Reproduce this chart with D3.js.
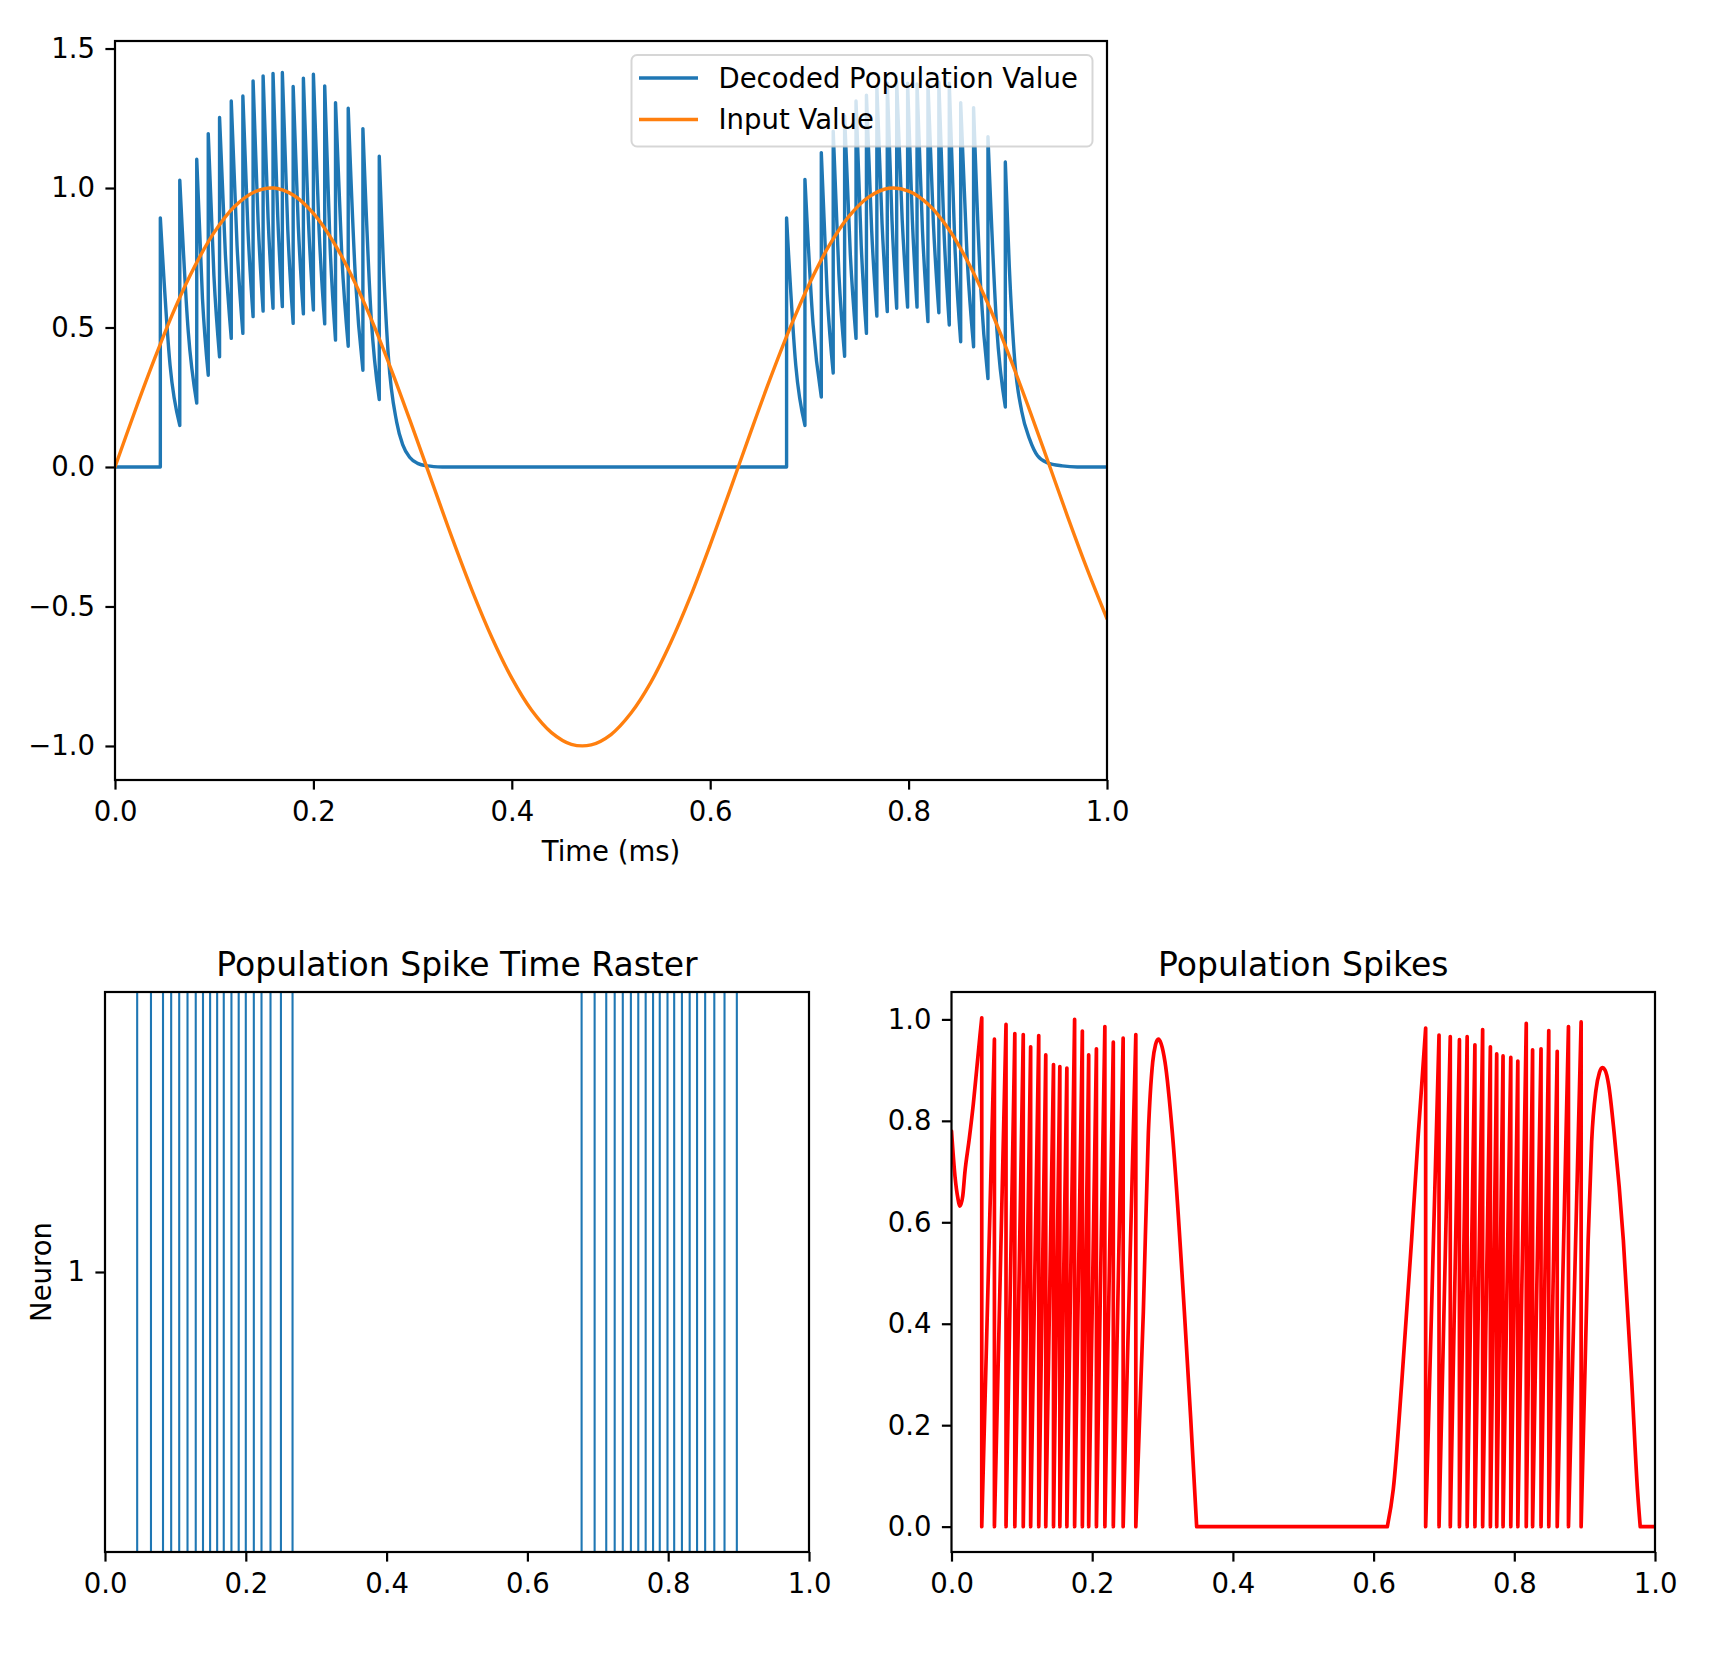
<!DOCTYPE html>
<html><head><meta charset="utf-8">
<script src="https://cdn.jsdelivr.net/npm/d3@7"></script>
<style>
html,body{margin:0;padding:0;background:#fff;}
svg{display:block;font-family:"DejaVu Sans",sans-serif;}
</style></head><body>
<svg id="fig" width="1736" height="1654"></svg>
<script>
// ---------------- data ----------------
const xTickValues = [0.0, 0.2, 0.4, 0.6, 0.8, 1.0];
const topYTickValues = [-1.0, -0.5, 0.0, 0.5, 1.0, 1.5];
const rasterYTickValues = [1];
const spikesYTickValues = [0.0, 0.2, 0.4, 0.6, 0.8, 1.0];
const legendLabels = ["Decoded Population Value", "Input Value"];

// input sine (time, value)
const inputTimes = [0,0.02,0.04,0.06,0.08,0.10,0.12,0.14,0.16,0.18,0.20,0.22,0.24,0.26,0.28,0.30,0.32,0.34,0.36,0.38,0.40,0.42,0.44,0.46,0.48,0.50,0.52,0.54,0.56,0.58,0.60,0.62,0.64,0.66,0.68,0.70,0.72,0.74,0.76,0.78,0.80,0.82,0.84,0.86,0.88,0.90,0.92,0.94,0.96,0.98,1.00];
const inputValues = [0,0.199,0.389,0.565,0.717,0.841,0.932,0.985,1.0,0.974,0.909,0.808,0.675,0.516,0.335,0.141,-0.058,-0.256,-0.443,-0.612,-0.757,-0.872,-0.952,-0.994,-0.996,-0.959,-0.883,-0.773,-0.631,-0.465,-0.279,-0.083,0.117,0.312,0.494,0.657,0.794,0.899,0.968,0.999,0.989,0.941,0.855,0.734,0.585,0.412,0.223,0.025,-0.175,-0.366,-0.544];

// spike times (ms) of the two bursts
const spikeTimes1 = [0.0457,0.0653,0.0824,0.094,0.1054,0.1172,0.1289,0.1392,0.1493,0.1593,0.1687,0.1796,0.1899,0.2000,0.2114,0.2223,0.2351,0.2499,0.2664];
const spikeTimes2 = [0.677,0.6955,0.712,0.724,0.7355,0.747,0.7575,0.768,0.7785,0.788,0.799,0.8085,0.8195,0.8305,0.841,0.8525,0.8655,0.880,0.8975];

// decoded value: peak right after each spike, value just before each spike, mid-interval value
const decodedPeaks1 = [0.893,1.028,1.103,1.195,1.253,1.312,1.330,1.384,1.402,1.411,1.414,1.364,1.394,1.408,1.366,1.306,1.286,1.213,1.114];
const decodedPeaks2 = [0.893,1.031,1.127,1.204,1.258,1.312,1.333,1.364,1.376,1.379,1.376,1.373,1.376,1.379,1.376,1.306,1.288,1.184,1.093];
const decodedTroughs1 = [0,0.149,0.229,0.329,0.395,0.461,0.479,0.539,0.559,0.569,0.575,0.515,0.549,0.563,0.513,0.455,0.433,0.347,0.242];
const decodedTroughs2 = [0,0.149,0.251,0.337,0.397,0.461,0.479,0.541,0.557,0.569,0.573,0.573,0.521,0.553,0.509,0.449,0.431,0.317,0.215];
const decodedMids1 = [0.365,0.485,0.602,0.687,0.760,0.793,0.847,0.880,0.893,0.901,0.853,0.865,0.886,0.850,0.788,0.752,0.668,0.542];
const decodedMids2 = [0.365,0.509,0.616,0.691,0.762,0.793,0.849,0.872,0.885,0.889,0.888,0.846,0.872,0.838,0.786,0.750,0.639,0.505];
const decodedTail1 = [[0.2705,0.731],[0.2755,0.40],[0.284,0.16],[0.29,0.08],[0.297,0.035],[0.305,0.013],[0.315,0.004],[0.33,0]];
const decodedTail2 = [[0.9015,0.72],[0.907,0.38],[0.914,0.2],[0.922,0.10],[0.93,0.04],[0.94,0.015],[0.955,0.004],[0.97,0],[1.0,0]];

// population spikes trace (red)
const redPeakTimes1 = [0.043,0.061,0.0775,0.090,0.102,0.1125,0.124,0.134,0.145,0.154,0.164,0.175,0.186,0.195,0.206,0.218,0.230,0.244,0.262];
const redPeakValues1 = [1.003,0.961,0.990,0.972,0.970,0.946,0.968,0.930,0.911,0.907,0.904,1.0,0.977,0.930,0.942,0.986,0.955,0.963,0.970];
const redPeakTimes2 = [0.674,0.693,0.709,0.722,0.733,0.744,0.755,0.766,0.775,0.784,0.795,0.805,0.817,0.826,0.838,0.849,0.861,0.877,0.895];
const redPeakValues2 = [0.983,0.969,0.966,0.960,0.966,0.950,0.980,0.946,0.932,0.928,0.925,0.918,0.992,0.940,0.942,0.978,0.937,0.986,0.995];
const redStart = [[0,0.78],[0.005,0.69],[0.009,0.648],[0.012,0.632],[0.016,0.652],[0.019,0.698],[0.0253,0.765],[0.031,0.833],[0.0358,0.901],[0.0405,0.969],[0.043,1.003]];
const redHump1 = [[0.2727,0.424],[0.2798,0.775],[0.286,0.916],[0.290,0.950],[0.294,0.961],[0.298,0.952],[0.3035,0.916],[0.314,0.775],[0.331,0.424],[0.340,0.214],[0.3485,0]];
const redRamp2 = [[0.6195,0],[0.628,0.074],[0.640,0.284],[0.654,0.565],[0.6636,0.775]];
const redHump2 = [[0.905,0.565],[0.910,0.760],[0.916,0.860],[0.921,0.895],[0.925,0.905],[0.929,0.900],[0.934,0.872],[0.942,0.775],[0.955,0.565],[0.967,0.284],[0.975,0.074],[0.979,0]];
const redEnd = 1.0;

// ---------------- style / layout ----------------
const C0 = "#1f77b4", C1 = "#ff7f0e", RED = "#ff0000";
const FS = 27.5, TFS = 33, TICK = 9.6, AXW = 2.2, LW = 3.4;
const svg = d3.select("#fig");
const defs = svg.append("defs");

function fmt1(v){ return d3.format(".1f")(v).replace("-", "\u2212"); }

function makeAxes(box, xDom, yDom, id){
  const x = d3.scaleLinear().domain(xDom).range([box.l, box.r]);
  const y = d3.scaleLinear().domain(yDom).range([box.b, box.t]);
  defs.append("clipPath").attr("id", id).append("rect")
    .attr("x", box.l).attr("y", box.t).attr("width", box.r - box.l).attr("height", box.b - box.t);
  const g = svg.append("g");
  const plot = g.append("g").attr("clip-path", `url(#${id})`);
  return {x, y, g, plot, box};
}

function drawFrame(ax, xt, yt, yf){
  const xa = d3.axisBottom(ax.x).tickValues(xt).tickFormat(fmt1).tickSize(TICK).tickPadding(12).tickSizeOuter(0);
  const gx = ax.g.append("g").attr("transform", `translate(0,${ax.box.b})`).call(xa);
  const ya = d3.axisLeft(ax.y).tickValues(yt).tickFormat(yf).tickSize(TICK).tickPadding(10.5).tickSizeOuter(0);
  const gy = ax.g.append("g").attr("transform", `translate(${ax.box.l},0)`).call(ya);
  [gx, gy].forEach(g => {
    g.attr("font-size", FS).attr("font-family", "DejaVu Sans, sans-serif").attr("color", "#000");
    g.select(".domain").remove();
    g.selectAll(".tick line").attr("stroke-width", AXW);
  });
  ax.g.append("rect").attr("x", ax.box.l).attr("y", ax.box.t)
    .attr("width", ax.box.r - ax.box.l).attr("height", ax.box.b - ax.box.t)
    .attr("fill", "none").attr("stroke", "#000").attr("stroke-width", AXW);
}

const linLine = d3.line().curve(d3.curveLinear);
const monoLine = d3.line().curve(d3.curveMonotoneX);

function drawSegments(ax, segs, color, w){
  let d = "";
  segs.forEach(s => {
    const pts = s.p.map(q => [ax.x(q[0]), ax.y(q[1])]);
    d += (s.c === "mono" ? monoLine : linLine)(pts);
  });
  ax.plot.append("path").attr("d", d).attr("fill", "none").attr("stroke", color)
    .attr("stroke-width", w).attr("stroke-linejoin", "round").attr("stroke-linecap", "round");
}

function decodedSegments(times, peaks, troughs, mids, tail, flatFrom){
  const segs = [];
  segs.push({c:"lin", p:[[flatFrom,0],[times[0],troughs[0]],[times[0],peaks[0]]]});
  for (let i = 0; i < times.length - 1; i++){
    segs.push({c:"mono", p:[[times[i],peaks[i]],[(times[i]+times[i+1])/2, mids[i]],[times[i+1],troughs[i+1]]]});
    segs.push({c:"lin", p:[[times[i+1],troughs[i+1]],[times[i+1],peaks[i+1]]]});
  }
  const n = times.length - 1;
  segs.push({c:"mono", p:[[times[n],peaks[n]]].concat(tail)});
  return segs;
}

function sawtooth(times, vals){
  const pts = [];
  for (let i = 0; i < times.length; i++){
    pts.push([times[i], vals[i]]);
    pts.push([times[i], 0]);
  }
  return pts;
}

// ---------------- top plot ----------------
const topAx = makeAxes({l:115, r:1107, t:41, b:780}, [0,1], [-1.122, 1.527], "clipTop");
let blueSegs = decodedSegments(spikeTimes1, decodedPeaks1, decodedTroughs1, decodedMids1, decodedTail1, 0);
blueSegs = blueSegs.concat(decodedSegments(spikeTimes2, decodedPeaks2, decodedTroughs2, decodedMids2, decodedTail2, decodedTail1[decodedTail1.length-1][0]));
drawSegments(topAx, blueSegs, C0, LW);

topAx.plot.append("path")
  .attr("d", d3.line().curve(d3.curveCatmullRom)(inputTimes.map((t,i) => [topAx.x(t), topAx.y(inputValues[i])])))
  .attr("fill", "none").attr("stroke", C1).attr("stroke-width", LW).attr("stroke-linecap", "round");

drawFrame(topAx, xTickValues, topYTickValues, fmt1);

topAx.g.append("text").attr("x", (topAx.box.l + topAx.box.r)/2).attr("y", 861)
  .attr("text-anchor", "middle").attr("font-size", FS).text("Time (ms)");

// legend
const lg = topAx.g.append("g");
lg.append("rect").attr("x", 631.5).attr("y", 55).attr("width", 461).attr("height", 91.5)
  .attr("rx", 5.5).attr("ry", 5.5).attr("fill", "#fff").attr("fill-opacity", 0.8)
  .attr("stroke", "#cccccc").attr("stroke-opacity", 0.8).attr("stroke-width", 2);
[C0, C1].forEach((c, i) => {
  const yy = 78 + i * 41.5;
  lg.append("line").attr("x1", 639).attr("x2", 698).attr("y1", yy).attr("y2", yy)
    .attr("stroke", c).attr("stroke-width", LW);
  lg.append("text").attr("x", 718.5).attr("y", yy).attr("dy", "0.35em")
    .attr("font-size", FS).text(legendLabels[i]);
});

// ---------------- raster ----------------
const ras = makeAxes({l:105, r:809, t:992, b:1552}, [0,1], [0.5, 1.5], "clipRas");
ras.plot.selectAll("line.ev").data(spikeTimes1.concat(spikeTimes2)).enter().append("line")
  .attr("class", "ev")
  .attr("x1", d => ras.x(d)).attr("x2", d => ras.x(d))
  .attr("y1", ras.y(0.5)).attr("y2", ras.y(1.5))
  .attr("stroke", C0).attr("stroke-width", 2.1);
drawFrame(ras, xTickValues, rasterYTickValues, d => String(d));
ras.g.append("text").attr("x", (ras.box.l + ras.box.r)/2).attr("y", 975.5)
  .attr("text-anchor", "middle").attr("font-size", TFS).text("Population Spike Time Raster");
ras.g.append("text").attr("transform", `translate(41,${(ras.box.t + ras.box.b)/2}) rotate(-90)`)
  .attr("text-anchor", "middle").attr("dy", "0.35em").attr("font-size", FS).text("Neuron");

// ---------------- population spikes ----------------
const ps = makeAxes({l:951.5, r:1655, t:992, b:1552}, [0,1], [-0.05, 1.054], "clipPs");
const n1 = redPeakTimes1.length - 1, n2 = redPeakTimes2.length - 1;
const redSegs = [
  {c:"mono", p: redStart},
  {c:"lin",  p: sawtooth(redPeakTimes1, redPeakValues1)},
  {c:"mono", p: [[redPeakTimes1[n1], 0]].concat(redHump1)},
  {c:"lin",  p: [redHump1[redHump1.length-1], redRamp2[0]]},
  {c:"mono", p: redRamp2.concat([[redPeakTimes2[0], redPeakValues2[0]]])},
  {c:"lin",  p: sawtooth(redPeakTimes2, redPeakValues2)},
  {c:"mono", p: [[redPeakTimes2[n2], 0]].concat(redHump2)},
  {c:"lin",  p: [redHump2[redHump2.length-1], [redEnd, 0]]}
];
drawSegments(ps, redSegs, RED, 3.7);
drawFrame(ps, xTickValues, spikesYTickValues, fmt1);
ps.g.append("text").attr("x", (ps.box.l + ps.box.r)/2).attr("y", 975.5)
  .attr("text-anchor", "middle").attr("font-size", TFS).text("Population Spikes");
</script></body></html>
